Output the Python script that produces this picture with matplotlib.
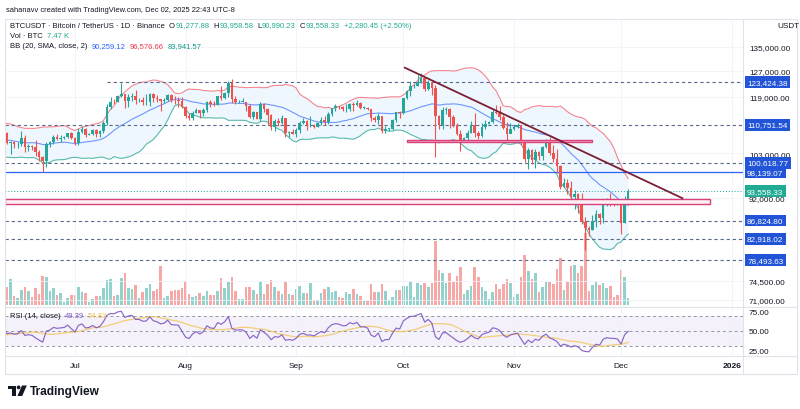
import numpy as np
import pandas as pd
import matplotlib
matplotlib.use('Agg')
import matplotlib.pyplot as plt
import matplotlib.dates as mdates
import matplotlib.transforms as mtransforms
from matplotlib.patches import Rectangle, Circle, Polygon
from matplotlib.ticker import NullLocator

plt.rcParams['font.family'] = ['Liberation Sans', 'DejaVu Sans']

# BTCUSDT 1D (Binance), prices in thousand USDT
# closes May 13 - Jun 11, only used to warm up BB / RSI
pre_close_k = [104.1, 103.5, 103.7, 103.5, 103.2, 106.4, 105.6, 106.8, 109.6, 111.7,
               107.3, 107.8, 109.0, 109.4, 108.9, 107.8, 105.6, 103.9, 104.6, 105.7,
               105.9, 105.4, 104.7, 101.6, 104.4, 105.6, 105.7, 110.3, 110.3, 108.6]

# visible candles Jun 12 - Dec 3 2025
close_k = [
    # Jun 12-30
    105.7, 106.1, 105.4, 105.6, 107.0, 104.6, 104.9, 104.6, 103.3, 102.1, 100.9, 105.4, 105.9,
    107.3, 106.9, 107.1, 107.3, 108.4, 107.1,
    # Jul
    105.7, 108.8, 109.6, 108.0, 108.2, 109.2, 108.3, 108.9, 111.3, 115.9, 117.5, 117.4, 119.1,
    119.8, 117.7, 118.8, 119.3, 117.9, 117.9, 117.3, 117.4, 119.9, 118.6, 118.3, 117.6, 117.9,
    119.4, 118.0, 117.9, 117.8, 115.8,
    # Aug
    113.3, 112.6, 114.2, 115.1, 114.1, 115.0, 117.5, 116.7, 116.5, 119.3, 118.7, 120.1, 123.3,
    118.3, 117.4, 117.5, 117.5, 116.3, 112.9, 114.3, 112.5, 116.9, 115.4, 113.5, 110.1, 111.8,
    111.3, 112.6, 108.4, 108.8, 108.2,
    # Sep
    109.2, 111.2, 111.7, 110.7, 110.7, 110.2, 111.2, 112.1, 111.5, 113.9, 115.5, 116.1, 115.9,
    115.3, 115.4, 116.8, 116.4, 117.1, 115.7, 115.7, 115.3, 112.7, 112.0, 113.3, 109.0, 109.7,
    109.7, 112.1, 114.4, 114.0,
    # Oct
    118.6, 120.6, 122.2, 122.4, 123.5, 124.7, 121.4, 123.3, 121.7, 113.2, 110.7, 115.1, 115.3,
    113.0, 110.8, 108.2, 106.5, 107.2, 108.6, 110.6, 108.5, 107.6, 110.1, 111.0, 111.6, 114.5,
    114.1, 112.9, 110.0, 108.3, 109.6,
    # Nov
    110.1, 110.6, 106.5, 101.5, 103.9, 101.3, 103.3, 102.3, 104.7, 106.0, 103.0, 101.6, 99.7,
    94.6, 95.6, 94.3, 92.2, 92.9, 91.5, 86.6, 85.1, 84.7, 86.8, 88.3, 87.4, 90.5, 91.3, 90.9,
    90.8, 90.4,
    # Dec
    86.3, 91.27788, 93.55833,
]
high_k = [
    108.8, 106.2, 106.2, 106.0, 108.9, 107.8, 105.6, 105.3, 106.6, 104.0, 102.4, 106.1, 106.3,
    108.0, 108.3, 107.8, 107.6, 108.5, 108.8,
    107.5, 109.8, 110.5, 109.8, 108.4, 109.7, 109.7, 109.2, 111.9, 116.9, 118.9, 118.2, 119.5,
    123.2, 119.9, 119.8, 120.1, 120.9, 118.6, 118.9, 119.7, 120.2, 120.0, 119.5, 118.4, 118.5,
    119.8, 119.8, 119.3, 118.8, 118.9,
    116.1, 114.0, 114.8, 115.7, 115.1, 115.7, 117.7, 117.9, 117.7, 119.3, 122.3, 120.3, 123.7,
    124.5, 119.2, 117.9, 118.6, 117.5, 116.8, 114.6, 114.4, 117.4, 117.0, 115.7, 113.7, 112.4,
    112.6, 113.5, 112.7, 108.9, 109.5,
    109.9, 111.8, 112.6, 112.2, 113.4, 111.0, 111.6, 112.9, 113.2, 114.3, 115.6, 116.7, 116.3,
    116.1, 116.8, 117.0, 117.3, 117.9, 117.5, 116.3, 115.9, 115.4, 113.3, 114.0, 113.4, 110.3,
    109.8, 112.4, 114.5, 114.8,
    118.7, 121.0, 123.9, 122.9, 125.7, 126.2, 125.1, 124.2, 123.8, 122.6, 113.5, 115.8, 116.0,
    115.6, 113.6, 111.4, 109.2, 107.5, 109.4, 111.7, 114.0, 109.0, 111.3, 112.0, 111.9, 115.0,
    116.4, 116.1, 113.6, 111.6, 111.2,
    110.6, 111.3, 110.8, 106.6, 104.5, 104.2, 104.1, 103.6, 105.0, 106.7, 107.5, 105.3, 104.1,
    99.9, 96.8, 96.6, 96.0, 93.8, 93.2, 93.2, 87.5, 85.6, 88.0, 89.2, 88.5, 91.0, 91.9, 93.1,
    91.2, 92.0,
    90.4, 92.3, 93.95858,
]
low_k = [
    105.6, 102.7, 104.3, 104.5, 105.0, 103.4, 103.5, 103.9, 102.3, 101.0, 98.2, 99.6, 104.6,
    105.4, 106.6, 106.1, 106.8, 107.2, 106.7,
    105.3, 105.1, 108.6, 107.3, 107.8, 107.8, 107.5, 107.4, 108.4, 110.6, 115.2, 116.9, 117.3,
    118.9, 115.7, 115.9, 117.8, 116.8, 117.3, 116.5, 116.5, 116.1, 117.3, 117.4, 114.7, 117.2,
    117.8, 117.4, 116.9, 115.8, 115.5,
    112.7, 112.0, 112.0, 114.1, 112.7, 113.4, 114.3, 115.9, 116.3, 116.5, 118.1, 118.2, 118.9,
    117.2, 116.8, 117.2, 117.3, 114.7, 112.7, 112.4, 112.4, 111.7, 114.5, 110.7, 109.3, 109.1,
    110.3, 110.9, 107.5, 107.4, 108.1,
    107.3, 108.6, 110.9, 109.3, 110.2, 109.9, 110.1, 110.6, 110.8, 110.9, 113.4, 114.8, 115.2,
    114.8, 114.4, 114.8, 114.7, 116.2, 115.2, 115.4, 115.1, 111.9, 111.5, 111.1, 108.6, 108.6,
    109.1, 109.3, 111.6, 112.7,
    113.9, 118.3, 119.3, 121.6, 122.1, 123.1, 120.6, 121.0, 119.6, 102.0, 109.7, 109.7, 113.9,
    110.0, 110.2, 107.9, 103.5, 106.4, 106.1, 108.4, 107.5, 106.9, 107.5, 109.7, 110.9, 111.3,
    113.8, 112.2, 109.5, 106.3, 108.4,
    109.4, 109.8, 105.3, 100.8, 98.9, 100.3, 99.3, 101.3, 101.4, 104.3, 102.5, 100.8, 98.0,
    94.0, 94.6, 93.0, 91.2, 89.3, 88.6, 86.1, 80.6, 83.5, 84.7, 85.3, 86.1, 86.3, 90.1, 90.2,
    90.2, 90.3,
    83.8, 86.2, 90.99023,
]
# volume, thousand BTC
vol_k = [18, 26, 9, 7, 15, 18, 14, 8, 17, 11, 29, 28, 14, 17, 10, 12, 3, 7, 10, 10,
         18, 13, 12, 3, 6, 9, 9, 17, 25, 26, 9, 10, 27, 32, 17, 16, 20, 7, 13, 17,
         21, 14, 16, 39, 7, 9, 14, 15, 15, 17, 24, 11, 8, 9, 12, 9, 14, 10, 10, 14,
         27, 17, 23, 28, 14, 6, 6, 18, 18, 15, 11, 23, 11, 21, 25, 18, 14, 11, 23, 11,
         10, 16, 19, 12, 12, 22, 5, 5, 12, 16, 18,
         13, 14, 8, 7, 13, 11, 16, 11, 9, 4, 4, 21, 13, 13, 21, 14, 5, 8, 15, 15,
         19, 19, 24, 8, 22, 20, 22, 18, 22, 64, 35, 32, 22, 32, 23, 29, 38, 11, 15, 19,
         38, 28, 18, 14, 6, 13, 21, 16, 21, 26, 22, 8, 11, 28, 50, 34, 26, 32, 13, 18,
         23, 23, 21, 36, 47, 15, 24, 39, 40, 32, 39, 72, 14, 20, 24, 20, 22, 17, 19, 8,
         10, 35, 28, 7.47]

# drawings on the chart
dashed_levels = [123424.38, 110751.54, 100618.77, 86824.80, 82918.02, 78493.63]
dashed_start = ['2025-07-10', None, None, None, None, None]
solid_level = 98139.07
zone_top = [(106600, 105900, '2025-10-02', '2025-11-23'),
            (91700, 90500, None, '2025-12-26')]
trend_dates = ['2025-10-01 05:00', '2025-12-18 10:00']
trend_prices = [128200, 91800]

price_ticks = [135000, 127000, 119000, 103000, 92000, 74500, 71000]
month_ticks = ['2025-07-01', '2025-08-01', '2025-09-01', '2025-10-01', '2025-11-01',
               '2025-12-01', '2026-01-01']
month_labels = ['Jul', 'Aug', 'Sep', 'Oct', 'Nov', 'Dec', '2026']

UP = '#26a69a'
DN = '#ef5350'
TXT = '#131722'
BLUE = '#2154d6'

# ---- derived series
n_pre = len(pre_close_k)
dates_all = pd.date_range('2025-05-13', periods=n_pre + len(close_k), freq='D')
close_all = pd.Series(np.r_[pre_close_k, close_k] * 1000, index=dates_all)
x_all = mdates.date2num(dates_all)
x = x_all[n_pre:]
close = close_all.values[n_pre:]
opn = close_all.shift(1).values[n_pre:]
high = np.array(high_k) * 1000
low = np.array(low_k) * 1000
up = close >= opn
col = np.where(up, UP, DN)

basis = close_all.rolling(20).mean()
dev = close_all.rolling(20).std(ddof=0)
upper = basis + 2 * dev
lower = basis - 2 * dev

delta = close_all.diff()
gain = delta.clip(lower=0)
loss = -delta.clip(upper=0)
avg_g = gain.ewm(alpha=1 / 14, adjust=False).mean()
avg_l = loss.ewm(alpha=1 / 14, adjust=False).mean()
rsi = 100 - 100 / (1 + avg_g / avg_l)
rsi_ma = rsi.rolling(14).mean()

# ---- figure
fig = plt.figure(figsize=(8, 4.1), dpi=100)
fig.patch.set_facecolor('white')
pos_price = [5 / 800, 1 - 308 / 410, 738 / 800, 288 / 410]
pos_rsi = [5 / 800, 1 - 357 / 410, 738 / 800, 49 / 410]
vax = fig.add_axes(pos_price)
ax = fig.add_axes(pos_price, sharex=vax)
rax = fig.add_axes(pos_rsi, sharex=vax)
ov = fig.add_axes([0, 0, 1, 1])
ov.set_xlim(0, 800)
ov.set_ylim(410, 0)
ov.axis('off')

x_lo, x_hi = x[0] - 0.56, x[0] + 206.16

# volume
vax.bar(x, vol_k, width=0.72, color=np.where(up, UP, DN), alpha=0.5, lw=0)
vax.set_ylim(-2, 286)
vax.axis('off')

# price pane
ax.patch.set_alpha(0)
ax.set_yscale('log')
ax.set_ylim(69680, 144960)
ax.set_xlim(x_lo, x_hi)
for s in ax.spines.values():
    s.set_visible(False)

sl = slice(n_pre - 1, None)
ax.fill_between(x_all[sl], lower.values[sl], upper.values[sl], color='#2196f3', alpha=0.07, lw=0, zorder=1)
ax.plot(x_all[sl], upper.values[sl], color='#f23645', alpha=0.6, lw=0.8, zorder=2)
ax.plot(x_all[sl], basis.values[sl], color='#2962ff', alpha=0.65, lw=0.8, zorder=2)
ax.plot(x_all[sl], lower.values[sl], color='#089981', alpha=0.65, lw=0.8, zorder=2)

ax.vlines(x, low, high, colors=col, lw=0.8, zorder=3)
body_lo = np.minimum(opn, close)
body_hi = np.maximum(opn, close)
ax.bar(x, np.maximum(body_hi - body_lo, body_lo * 0.0008), bottom=body_lo, width=0.72,
       color=col, lw=0, zorder=4)

for lvl, st in zip(dashed_levels, dashed_start):
    x0 = mdates.datestr2num(st) if st else x_lo
    ax.hlines(lvl, x0, x_hi, colors='#5b6a8c', linestyles=(0, (3, 2.5)), lw=0.8, zorder=2.5)
ax.hlines(solid_level, x_lo, x_hi, colors='#2962ff', lw=0.9, zorder=2.5)
ax.axhline(close[-1], color=UP, ls=(0, (1, 2)), lw=0.7, zorder=2.5)

for (p_hi, p_lo, d0, d1), fc in zip(zone_top, ['#f7b3cc', '#fdf0f4']):
    z0 = mdates.datestr2num(d0) if d0 else x_lo
    z1 = mdates.datestr2num(d1)
    ax.add_patch(Rectangle((z0, p_lo), z1 - z0, p_hi - p_lo, facecolor=fc,
                           edgecolor='#d9417a', lw=1.0, zorder=5))

ax.plot(mdates.datestr2num(trend_dates), trend_prices, color='#7a1f33', lw=1.3, zorder=6,
        solid_capstyle='butt')

ax.yaxis.tick_right()
ax.set_yticks(price_ticks)
ax.set_yticklabels([f'{v:,.2f}' for v in price_ticks])
ax.yaxis.set_minor_locator(NullLocator())
ax.tick_params(axis='y', length=0, pad=4.3, labelsize=5.9, labelcolor=TXT)
ax.tick_params(axis='x', bottom=False, labelbottom=False, length=0)
ax.grid(True, color='#f0f3fa', lw=0.6, zorder=0)

# price badges
btr = mtransforms.blended_transform_factory(ax.transAxes, ax.transData)
for lvl in dashed_levels + [solid_level]:
    ax.text(1.0055, lvl, f'{lvl:,.2f}', transform=btr, fontsize=5.9, color='white',
            va='center', ha='left', zorder=20, clip_on=False,
            bbox=dict(boxstyle='square,pad=0.3', fc=BLUE, ec='none'))
ax.text(1.0055, close[-1], f'{close[-1]:,.2f}', transform=btr, fontsize=5.9, color='white',
        va='center', ha='left', zorder=20, clip_on=False,
        bbox=dict(boxstyle='square,pad=0.3', fc='#22ab94', ec='none'))

# rsi pane
rax.set_ylim(17.2, 81.1)
rax.set_xlim(x_lo, x_hi)
for s in rax.spines.values():
    s.set_visible(False)
rax.axhspan(30, 70, color='#7e57c2', alpha=0.08, lw=0)
for lv in (70, 50, 30):
    rax.axhline(lv, color='#9598a1', ls=(0, (3, 3)), lw=0.7)
rax.plot(x_all[sl], rsi_ma.values[sl], color='#f2c14e', alpha=0.75, lw=0.9)
rax.plot(x_all[sl], rsi.values[sl], color='#7e57c2', alpha=0.9, lw=0.85)
rax.yaxis.tick_right()
rax.set_yticks([25, 50, 75])
rax.set_yticklabels(['25.00', '50.00', '75.00'])
rax.tick_params(axis='y', length=0, pad=4.3, labelsize=5.9, labelcolor=TXT)
rax.set_xticks(mdates.datestr2num(month_ticks))
rax.set_xticklabels(month_labels)
rax.tick_params(axis='x', length=0, pad=4.5, labelsize=6, labelcolor=TXT)
rax.get_xticklabels()[-1].set_fontweight('bold')
rax.grid(True, axis='x', color='#f0f3fa', lw=0.6)
ax.grid(True, axis='x', color='#f0f3fa', lw=0.6)

# frame
fc_line = '#e0e3eb'
ov.add_patch(Rectangle((5, 20), 792, 355, fill=False, ec=fc_line, lw=0.8))
ov.plot([743, 743], [20, 375], color=fc_line, lw=0.8)
ov.plot([5, 797], [308, 308], color=fc_line, lw=0.8)
ov.plot([5, 797], [357, 357], color=fc_line, lw=0.8)

# header texts
renderer = fig.canvas.get_renderer()


def put_row(x0, y0, parts, size):
    xc = x0
    for s, c, gap in parts:
        xc += gap
        t = ov.text(xc, y0, s, color=c, fontsize=size, va='center', ha='left')
        xc = t.get_window_extent(renderer).x1


ov.text(6, 10, 'sahanavv created with TradingView.com, Dec 02, 2025 22:43 UTC-8',
        fontsize=5.4, color=TXT, va='center', ha='left')
TEAL = '#22ab94'
put_row(10, 26, [('BTCUSDT · Bitcoin / TetherUS · 1D · Binance', TXT, 0),
                 ('O', TXT, 4), ('91,277.88', TEAL, 0.5),
                 ('H', TXT, 4), ('93,958.58', TEAL, 0.5),
                 ('L', TXT, 4), ('90,990.23', TEAL, 0.5),
                 ('C', TXT, 4), ('93,558.33', TEAL, 0.5),
                 ('+2,280.45 (+2.50%)', TEAL, 4)], 5.5)
put_row(10, 36.5, [('Vol · BTC', TXT, 0), ('7.47 K', TEAL, 4)], 5.5)
put_row(10, 47, [('BB (20, SMA, close, 2)', TXT, 0), ('90,259.12', '#2962ff', 4),
                 ('96,576.66', '#f23645', 4), ('83,941.57', '#089981', 4)], 5.5)
put_row(10, 317, [('RSI (14, close)', TXT, 0), ('49.39', '#7e57c2', 4),
                  ('54.83', '#f2c14e', 4)], 5.5)
ov.text(777, 26, 'USDT', fontsize=5.9, color=TXT, va='center', ha='left')

# TradingView logo
ov.add_patch(Rectangle((7.5, 386.5), 8.5, 3.6, color=TXT, lw=0))
ov.add_patch(Rectangle((12.2, 386.5), 3.8, 10.5, color=TXT, lw=0))
ov.add_patch(Circle((18.6, 388.4), 1.9, color=TXT, lw=0))
ov.add_patch(Polygon([(22.0, 386.5), (26.8, 386.5), (22.2, 397.0), (17.4, 397.0)], color=TXT, lw=0))
ov.text(29.5, 392, 'TradingView', fontsize=8.6, fontweight='bold', color=TXT,
        va='center', ha='left')

fig.savefig('out.png', dpi=100)
